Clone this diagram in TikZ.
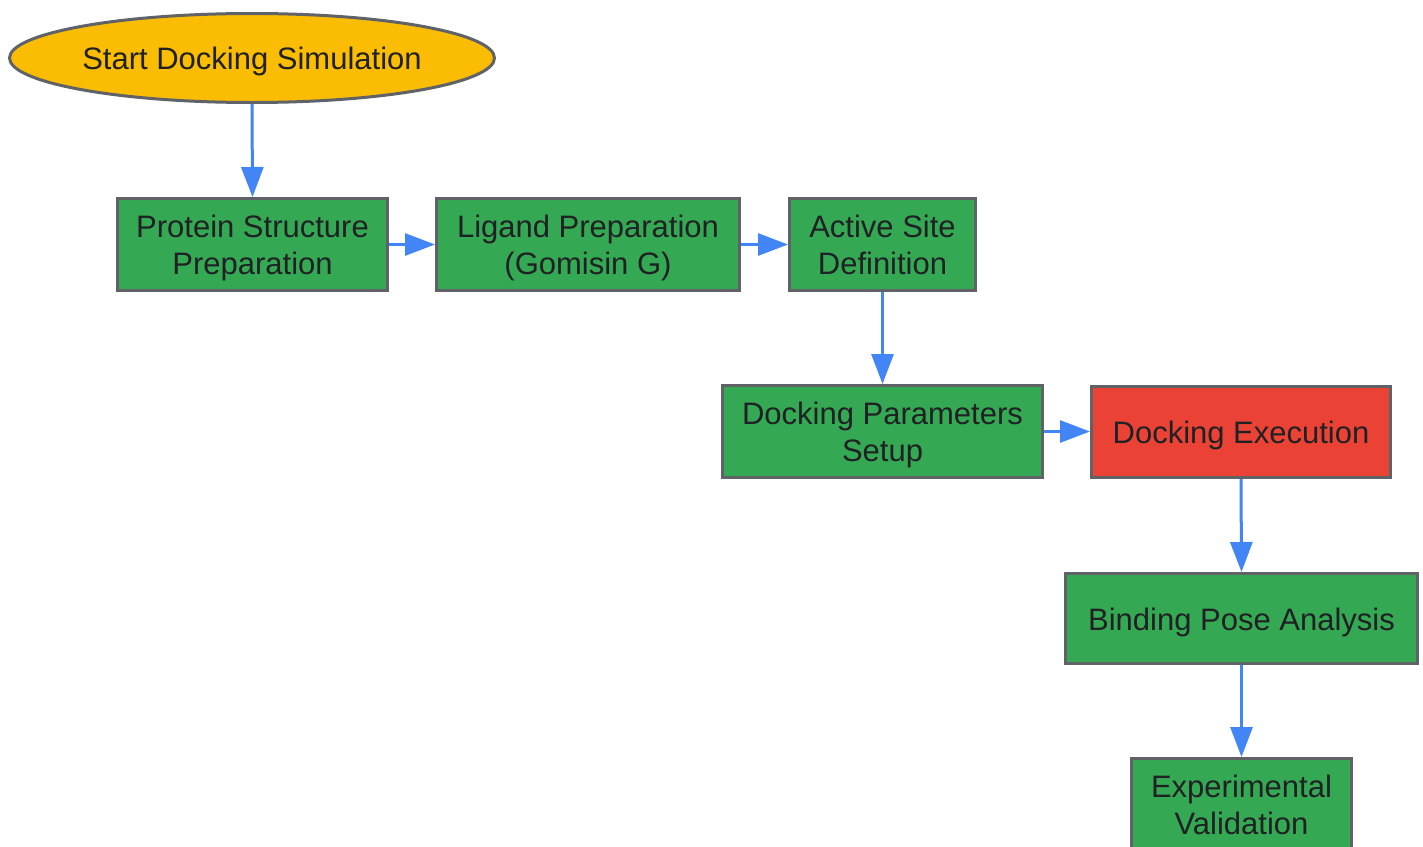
\documentclass[tikz,border=0pt]{standalone}
\usepackage{fontspec}
\setmainfont{Liberation Sans}
\usetikzlibrary{arrows.meta,shapes.geometric}
\definecolor{gbord}{HTML}{5F6368}
\definecolor{ggreen}{HTML}{34A853}
\definecolor{gyellow}{HTML}{FBBC04}
\definecolor{gred}{HTML}{EA4335}
\definecolor{gblue}{HTML}{4285F4}
\definecolor{gtext}{HTML}{202124}
\newcommand{\topstrut}{\rule{0pt}{30pt}}
\newcommand{\botstrut}{\rule[-6.5pt]{0pt}{6.5pt}}
\begin{document}
\begin{tikzpicture}[x=1pt,y=-1pt,
  base/.style={draw=gbord,line width=3pt,text=gtext,align=center,inner sep=0pt,
    font=\fontsize{31}{37}\selectfont},
  oneline/.style={execute at begin node={\rule{0pt}{30pt}}},
  stepbox/.style={base,rectangle,fill=ggreen},
  startnode/.style={base,oneline,ellipse,fill=gyellow},
  conn/.style={draw=gblue,line width=3pt,-{Triangle[length=30pt,width=22pt]}}]
\useasboundingbox (0,0) rectangle (1423,846);
\node[startnode,minimum width=485pt,minimum height=89pt] (start) at (252,58) {Start Docking Simulation};
\node[stepbox,minimum width=270pt,minimum height=92pt] (prot) at (252.5,244.5) {\topstrut Protein Structure\\Preparation};
\node[stepbox,minimum width=303pt,minimum height=92pt] (lig) at (588,244.5) {\topstrut Ligand Preparation\\(Gomisin G)};
\node[stepbox,minimum width=186pt,minimum height=92pt] (act) at (882.5,244.5) {\topstrut Active Site\\Definition\botstrut};
\node[stepbox,minimum width=320pt,minimum height=92pt] (par) at (882.5,431.5) {\topstrut Docking Parameters\\Setup};
\node[stepbox,oneline,fill=gred,minimum width=299pt,minimum height=91pt] (exe) at (1241,432) {Docking Execution};
\node[stepbox,oneline,minimum width=352pt,minimum height=90pt] (bind) at (1241.5,618.5) {Binding Pose Analysis};
\node[stepbox,minimum width=220pt,minimum height=92pt] (val) at (1241.5,804.5) {\topstrut Experimental\\Validation\botstrut};
\draw[conn] (start.south) -- (prot.north);
\draw[conn] (prot.east) -- (lig.west);
\draw[conn] (lig.east) -- (act.west);
\draw[conn] (act.south) -- (par.north);
\draw[conn] (par.east) -- (par.east -| exe.west);
\draw[conn] (exe.south) -- (bind.north);
\draw[conn] (bind.south) -- (val.north);
\end{tikzpicture}
\end{document}
